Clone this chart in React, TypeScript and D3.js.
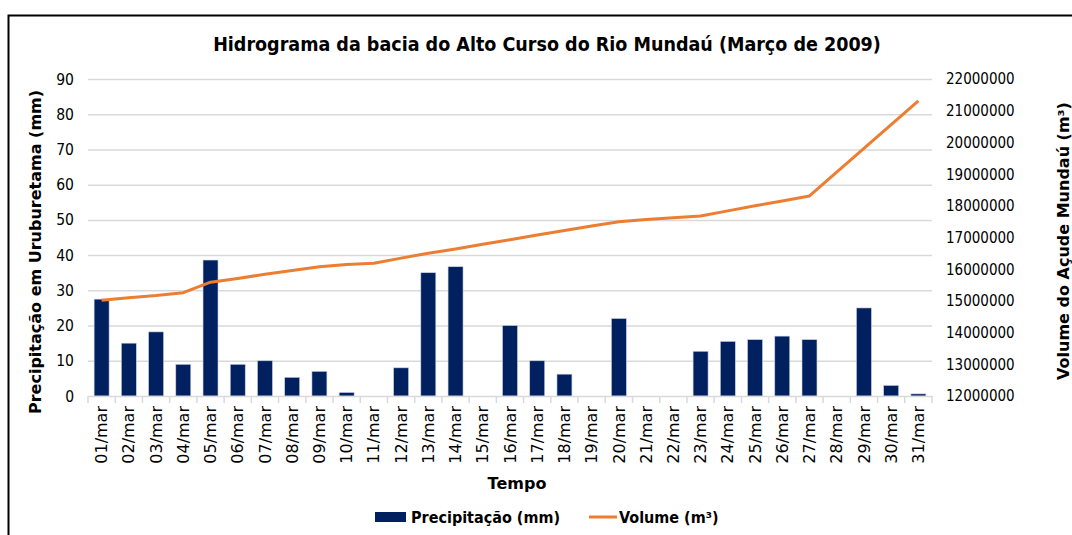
import React, { useEffect, useRef } from 'react';
import * as d3 from 'd3';

const days = [
  '01/mar', '02/mar', '03/mar', '04/mar', '05/mar', '06/mar', '07/mar', '08/mar',
  '09/mar', '10/mar', '11/mar', '12/mar', '13/mar', '14/mar', '15/mar', '16/mar',
  '17/mar', '18/mar', '19/mar', '20/mar', '21/mar', '22/mar', '23/mar', '24/mar',
  '25/mar', '26/mar', '27/mar', '28/mar', '29/mar', '30/mar', '31/mar',
];

const precipitacao = [
  27.5, 15, 18.2, 9, 38.6, 9, 10, 5.3, 7, 1, 0, 8, 35, 36.7, 0, 20,
  10, 6.2, 0, 22, 0, 0, 12.7, 15.5, 16, 17, 16, 0, 25, 3, 0.6,
];

const volume = [
  15020000, 15100000, 15170000, 15260000, 15590000, 15710000, 15840000, 15960000,
  16080000, 16150000, 16190000, 16350000, 16500000, 16640000, 16790000, 16930000,
  17080000, 17220000, 17360000, 17500000, 17570000, 17620000, 17680000, 17840000,
  18000000, 18150000, 18310000, 19060000, 19810000, 20560000, 21310000,
];

const leftTicks = [0, 10, 20, 30, 40, 50, 60, 70, 80, 90];
const rightTicks = [12000000, 13000000, 14000000, 15000000, 16000000, 17000000, 18000000, 19000000, 20000000, 21000000, 22000000];

const FONT = '"DejaVu Sans", Verdana, sans-serif';
const COND = '"DejaVu Sans Condensed", "DejaVu Sans", sans-serif';

export default function App() {
  const ref = useRef<SVGSVGElement>(null);

  useEffect(() => {
    const svg = d3.select(ref.current);
    svg.selectAll('*').remove();

    const W = 1072, H = 535;
    const left = 88, right = 932, top = 79, bottom = 396;

    svg.attr('width', W).attr('height', H)
      .style('display', 'block').style('position', 'absolute').style('left', 0).style('top', 0)
      .style('font-family', FONT);

    // frame
    svg.append('rect').attr('width', W).attr('height', H).attr('fill', '#fff');
    svg.append('path')
      .attr('d', `M8.5,${H} L8.5,15.5 L${W},15.5`)
      .attr('fill', 'none').attr('stroke', '#000').attr('stroke-width', 2);

    const x = d3.scaleBand().domain(days).range([left, right]).paddingInner(0.45).paddingOuter(0.225);
    const xOuter = d3.scaleBand().domain(days).range([left, right]);
    const yL = d3.scaleLinear().domain([0, 90]).range([bottom, top]);
    const yR = d3.scaleLinear().domain([12000000, 22000000]).range([bottom, top]);

    // gridlines
    svg.append('g').selectAll('line').data(leftTicks.slice(1)).join('line')
      .attr('x1', left).attr('x2', right)
      .attr('y1', d => yL(d) + 0.5).attr('y2', d => yL(d) + 0.5)
      .attr('stroke', '#d9d9d9').attr('stroke-width', 1.5);

    // left tick labels
    svg.append('g').selectAll('text').data(leftTicks).join('text')
      .attr('x', 74).attr('y', d => yL(d)).attr('dy', '0.36em')
      .attr('text-anchor', 'end').attr('font-size', 15.5).attr('font-family', COND).attr('fill', '#000')
      .text(d => d);

    // right tick labels
    svg.append('g').selectAll('text').data(rightTicks).join('text')
      .attr('x', 946).attr('y', d => yR(d)).attr('dy', '0.36em')
      .attr('text-anchor', 'start').attr('font-size', 15).attr('font-family', COND).attr('fill', '#000')
      .text(d => String(d));

    // bars
    svg.append('g').selectAll('rect').data(days).join('rect')
      .attr('x', d => x(d)!)
      .attr('width', x.bandwidth())
      .attr('y', (d, i) => yL(precipitacao[i]))
      .attr('height', (d, i) => bottom - yL(precipitacao[i]))
      .attr('fill', '#002060')
      .attr('stroke', '#c8d0e0').attr('stroke-width', 0.6);

    // x axis baseline + ticks
    svg.append('line').attr('x1', left).attr('x2', right).attr('y1', bottom + 0.5).attr('y2', bottom + 0.5)
      .attr('stroke', '#d9d9d9').attr('stroke-width', 1.5);
    const bounds = days.map(d => xOuter(d)!).concat([right]);
    svg.append('g').selectAll('line').data(bounds).join('line')
      .attr('x1', d => d).attr('x2', d => d).attr('y1', bottom).attr('y2', bottom + 7)
      .attr('stroke', '#d9d9d9').attr('stroke-width', 1.5);

    // x tick labels rotated
    svg.append('g').selectAll('text').data(days).join('text')
      .attr('transform', d => `translate(${xOuter(d)! + xOuter.bandwidth() / 2},406) rotate(-90)`)
      .attr('dy', '0.35em')
      .attr('text-anchor', 'end').attr('font-size', 16).attr('fill', '#000')
      .text(d => d);

    // volume line
    const line = d3.line<number>()
      .x((d, i) => xOuter(days[i])! + xOuter.bandwidth() / 2)
      .y(d => yR(d));
    svg.append('path').datum(volume)
      .attr('d', line)
      .attr('fill', 'none').attr('stroke', '#ED7D31').attr('stroke-width', 3)
      .attr('stroke-linejoin', 'round');

    // title
    svg.append('text').attr('x', 547).attr('y', 51).attr('text-anchor', 'middle')
      .attr('font-size', 19.5).attr('font-weight', 'bold').attr('font-family', COND).attr('fill', '#000')
      .text('Hidrograma da bacia do Alto Curso do Rio Mundaú (Março de 2009)');

    // axis titles
    svg.append('text').attr('transform', `translate(41,252) rotate(-90)`)
      .attr('text-anchor', 'middle').attr('font-size', 16).attr('font-weight', 'bold')
      .text('Precipitação em Uruburetama (mm)');
    svg.append('text').attr('transform', `translate(1069,241) rotate(-90)`)
      .attr('text-anchor', 'middle').attr('font-size', 16).attr('font-weight', 'bold')
      .text('Volume do Açude Mundaú (m³)');
    svg.append('text').attr('x', 517).attr('y', 489).attr('text-anchor', 'middle')
      .attr('font-size', 16).attr('font-weight', 'bold').text('Tempo');

    // legend
    const lg = svg.append('g').attr('font-family', COND).attr('font-size', 16).attr('font-weight', 'bold');
    lg.append('rect').attr('x', 375).attr('y', 512).attr('width', 31).attr('height', 10).attr('fill', '#002060');
    lg.append('text').attr('x', 411).attr('y', 523).text('Precipitação (mm)');
    lg.append('line').attr('x1', 589).attr('x2', 617).attr('y1', 517).attr('y2', 517)
      .attr('stroke', '#ED7D31').attr('stroke-width', 3);
    lg.append('text').attr('x', 619).attr('y', 523).text('Volume (m³)');
  }, []);

  return <svg ref={ref}></svg>;
}
